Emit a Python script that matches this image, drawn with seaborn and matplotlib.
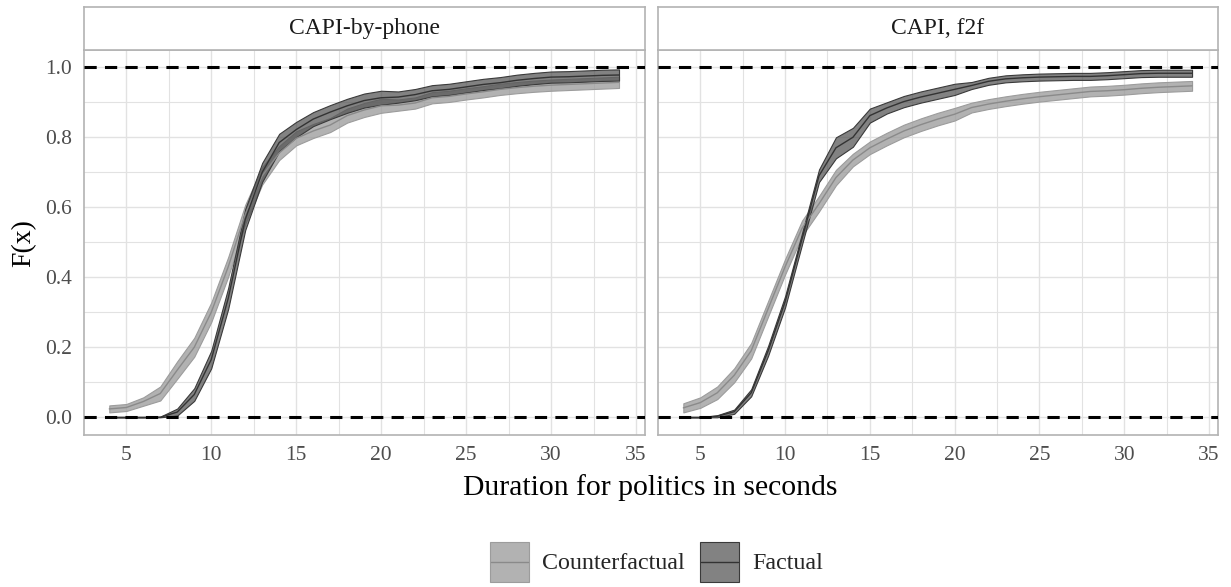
import numpy as np
import pandas as pd
import matplotlib
matplotlib.use("Agg")
import matplotlib.pyplot as plt
from matplotlib.patches import Rectangle
from matplotlib.lines import Line2D
from matplotlib.legend_handler import HandlerBase
import seaborn as sns

# ---- data: empirical CDF of response duration with pointwise bands ----
duration = list(range(4, 35))
panels = ["CAPI-by-phone", "CAPI, f2f"]
groups = ["Counterfactual", "Factual"]

phone_counterfactual = [0.024, 0.028, 0.045, 0.068, 0.135, 0.200, 0.300, 0.430, 0.580, 0.690,
                        0.755, 0.797, 0.818, 0.835, 0.862, 0.878, 0.890, 0.892, 0.898, 0.913,
                        0.917, 0.924, 0.930, 0.937, 0.942, 0.946, 0.949, 0.951, 0.953, 0.955, 0.957]
phone_counterfactual_hw = [0.010, 0.010, 0.012, 0.020, 0.025, 0.027, 0.028, 0.028, 0.027, 0.025,
                           0.020, 0.020, 0.020, 0.020, 0.020, 0.020, 0.020, 0.016, 0.016, 0.016,
                           0.016, 0.016, 0.016, 0.016, 0.016, 0.016, 0.016, 0.016, 0.016, 0.016, 0.016]
phone_factual = [0.000, 0.000, 0.000, 0.000, 0.015, 0.065, 0.165, 0.340, 0.565, 0.700,
                 0.785, 0.822, 0.852, 0.872, 0.890, 0.905, 0.913, 0.915, 0.922, 0.933,
                 0.937, 0.944, 0.951, 0.956, 0.963, 0.968, 0.972, 0.973, 0.975, 0.977, 0.978]
phone_factual_hw = [0.000, 0.000, 0.000, 0.002, 0.010, 0.018, 0.025, 0.030, 0.030, 0.027,
                    0.025, 0.022, 0.020, 0.020, 0.020, 0.020, 0.020, 0.016, 0.016, 0.016,
                    0.016, 0.016, 0.016, 0.016, 0.016, 0.016, 0.016, 0.016, 0.016, 0.016, 0.016]

f2f_counterfactual = [0.027, 0.042, 0.070, 0.120, 0.190, 0.310, 0.430, 0.540, 0.610, 0.685,
                      0.735, 0.770, 0.795, 0.818, 0.836, 0.852, 0.866, 0.885, 0.895, 0.903,
                      0.910, 0.916, 0.921, 0.926, 0.931, 0.933, 0.936, 0.940, 0.943, 0.945, 0.947]
f2f_counterfactual_hw = [0.013, 0.015, 0.018, 0.020, 0.022, 0.022, 0.022, 0.022, 0.022, 0.022,
                         0.018, 0.018, 0.018, 0.018, 0.018, 0.018, 0.018, 0.014, 0.014, 0.014,
                         0.014, 0.014, 0.014, 0.014, 0.014, 0.014, 0.014, 0.014, 0.014, 0.014, 0.014]
f2f_factual = [0.000, 0.000, 0.003, 0.016, 0.070, 0.190, 0.330, 0.510, 0.690, 0.770,
               0.800, 0.862, 0.884, 0.902, 0.915, 0.926, 0.937, 0.948, 0.960, 0.967,
               0.970, 0.972, 0.973, 0.974, 0.974, 0.976, 0.979, 0.982, 0.983, 0.983, 0.983]
f2f_factual_hw = [0.000, 0.000, 0.003, 0.006, 0.010, 0.014, 0.016, 0.016, 0.018, 0.030,
                  0.027, 0.020, 0.016, 0.016, 0.016, 0.016, 0.016, 0.010, 0.010, 0.010,
                  0.010, 0.010, 0.010, 0.010, 0.010, 0.010, 0.010, 0.010, 0.010, 0.010, 0.010]

series = {
    ("CAPI-by-phone", "Counterfactual"): (phone_counterfactual, phone_counterfactual_hw),
    ("CAPI-by-phone", "Factual"): (phone_factual, phone_factual_hw),
    ("CAPI, f2f", "Counterfactual"): (f2f_counterfactual, f2f_counterfactual_hw),
    ("CAPI, f2f", "Factual"): (f2f_factual, f2f_factual_hw),
}

frames = []
for (mode, grp), (est, hw) in series.items():
    est = np.asarray(est)
    hw = np.asarray(hw)
    frames.append(pd.DataFrame({
        "duration": duration, "F": est,
        "lo": np.clip(est - hw, 0, 1), "hi": np.clip(est + hw, 0, 1),
        "mode": mode, "group": grp,
    }))
df = pd.concat(frames, ignore_index=True)

# ---- style ----
sns.set_theme(style="white")
plt.rcParams["font.family"] = ["Liberation Serif", "DejaVu Serif"]

ribbon_fill = {"Counterfactual": (0.60, 0.60, 0.60, 0.75), "Factual": (0.30, 0.30, 0.30, 0.70)}
ribbon_edge = {"Counterfactual": "#9c9c9c", "Factual": "#3a3a3a"}
line_color = {"Counterfactual": "#8a8a8a", "Factual": "#333333"}
border = "#b3b3b3"
grid_col = "#e2e2e2"


class RibbonKey(HandlerBase):
    """Legend key: filled square with the line through its middle."""

    def __init__(self, group):
        super().__init__()
        self.group = group

    def create_artists(self, legend, orig_handle, xdescent, ydescent, width, height,
                       fontsize, trans):
        rect = Rectangle((-xdescent, -ydescent), width, height,
                         facecolor=ribbon_fill[self.group], edgecolor=ribbon_edge[self.group],
                         linewidth=0.8, transform=trans)
        ymid = -ydescent + height / 2
        ln = Line2D([-xdescent + 1, -xdescent + width - 1], [ymid, ymid],
                    color=line_color[self.group], linewidth=1.0, transform=trans)
        return [rect, ln]


W, H = 1231, 587
fig = plt.figure(figsize=(W / 100, H / 100), dpi=100)

panel_px = [(83.8, 644.5), (657.9, 1217.5)]
top_px, bot_px = 49.8, 434.8
strip_top_px = 7.3

for i, (mode, (l, r)) in enumerate(zip(panels, panel_px)):
    ax = fig.add_axes([l / W, 1 - bot_px / H, (r - l) / W, (bot_px - top_px) / H])
    ax.set_facecolor("white")
    sub = df[df["mode"] == mode]

    for grp in groups:
        g = sub[sub["group"] == grp]
        ax.fill_between(g["duration"], g["lo"], g["hi"], facecolor=ribbon_fill[grp],
                        edgecolor=ribbon_edge[grp], linewidth=0.8, zorder=2)
        sns.lineplot(data=g, x="duration", y="F", color=line_color[grp], linewidth=1.0,
                     ax=ax, legend=False, zorder=3)

    for yref in (0.0, 1.0):
        ax.axhline(yref, color="black", linewidth=2.2, dashes=(4, 2.7), zorder=4)

    ax.set_xlim(2.5, 35.5)
    ax.set_ylim(-0.05, 1.05)
    ax.set_xticks(np.arange(5, 36, 5))
    ax.set_xticks(np.arange(7.5, 35, 5), minor=True)
    ax.set_yticks(np.arange(0, 1.01, 0.2))
    ax.set_yticks(np.arange(0.1, 1.0, 0.2), minor=True)
    ax.set_yticklabels([f"{v:.1f}" for v in np.arange(0, 1.01, 0.2)])
    ax.grid(which="major", color=grid_col, linewidth=1.0, zorder=0)
    ax.grid(which="minor", color=grid_col, linewidth=0.8, zorder=0)
    ax.set_axisbelow(True)
    ax.set_xlabel("")
    ax.set_ylabel("")
    for s in ax.spines.values():
        s.set_color(border)
        s.set_linewidth(1.2)
    ax.tick_params(axis="both", which="major", direction="out", length=4.3, width=0.9,
                   color=border, labelcolor="#4d4d4d", labelsize=15.5, pad=4)
    ax.tick_params(axis="both", which="minor", length=0)
    if i == 1:
        ax.tick_params(axis="y", which="major", length=0, labelleft=False)

    # facet strip
    sax = fig.add_axes([l / W, 1 - top_px / H, (r - l) / W, (top_px - strip_top_px) / H])
    sax.set_facecolor("white")
    sax.set_xticks([])
    sax.set_yticks([])
    for s in sax.spines.values():
        s.set_color(border)
        s.set_linewidth(1.2)
    sax.text(0.5, 0.5, mode, ha="center", va="center", fontsize=17, color="#1a1a1a",
             transform=sax.transAxes)

fig.text(650.6 / W, 1 - 495 / H, "Duration for politics in seconds", ha="center",
         va="baseline", fontsize=21.3, color="black")
fig.text(24 / W, 1 - 243 / H, "F(x)", ha="center", va="center", rotation=90,
         fontsize=20, color="black")

key_handles = [Rectangle((0, 0), 1, 1) for _ in groups]
fig.legend(key_handles, groups, loc="center", bbox_to_anchor=(656.5 / W, 1 - 561.7 / H),
           ncol=2, frameon=False, fontsize=17.3, handlelength=1.65, handleheight=2.18,
           handletextpad=0.55, columnspacing=0.6, borderpad=0.1,
           handler_map={h: RibbonKey(g) for h, g in zip(key_handles, groups)})

fig.savefig("out.png", dpi=100)
